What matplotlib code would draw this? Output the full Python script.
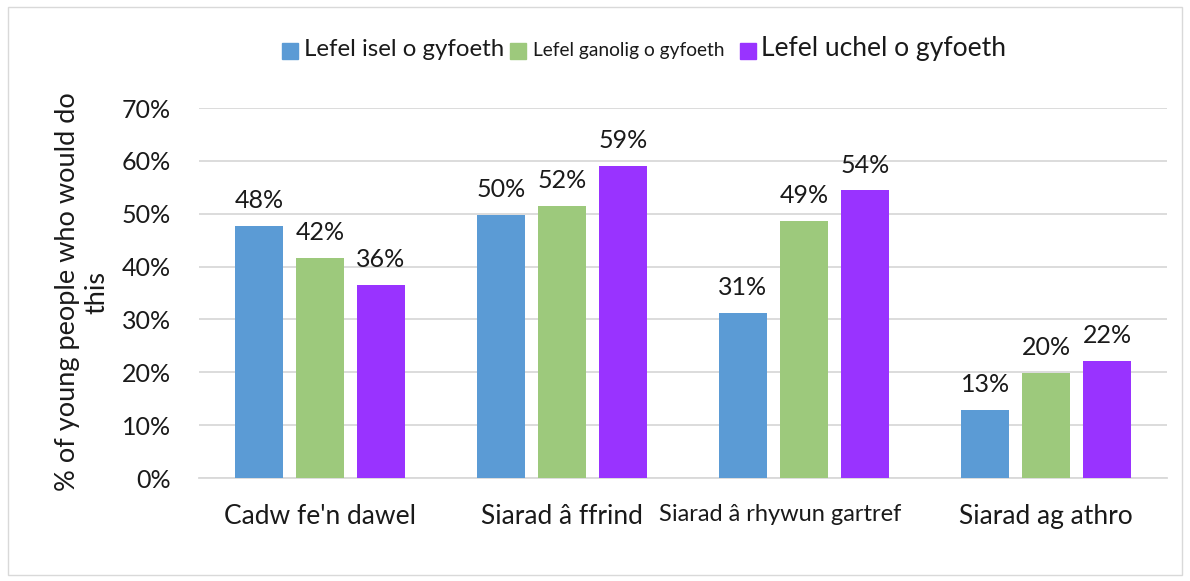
import matplotlib
matplotlib.use("Agg")
import matplotlib.pyplot as plt
from matplotlib.patches import Rectangle
from matplotlib.transforms import ScaledTranslation
import numpy as np

plt.rcParams['font.family'] = ['Lato', 'DejaVu Sans']

categories = ["Cadw fe'n dawel", "Siarad â ffrind", "Siarad â rhywun gartref", "Siarad ag athro"]
series_names = ["Lefel isel o gyfoeth", "Lefel ganolig o gyfoeth", "Lefel uchel o gyfoeth"]
isel = [47.7, 49.8, 31.2, 12.8]
ganolig = [41.6, 51.5, 48.6, 19.9]
uchel = [36.5, 59.0, 54.4, 22.1]
labels_isel = ["48%", "50%", "31%", "13%"]
labels_ganolig = ["42%", "52%", "49%", "20%"]
labels_uchel = ["36%", "59%", "54%", "22%"]
yticks = [0, 10, 20, 30, 40, 50, 60, 70]
ytick_labels = ["0%", "10%", "20%", "30%", "40%", "50%", "60%", "70%"]

colors = ["#5B9BD5", "#9DC97C", "#9933FF"]
series = [isel, ganolig, uchel]
series_labels = [labels_isel, labels_ganolig, labels_uchel]

W, H = 1190, 581
fig = plt.figure(figsize=(W / 100, H / 100), dpi=100)
ax = fig.add_axes([199 / W, 1 - 478 / H, (1167 - 199) / W, (478 - 108) / H])

x = np.arange(len(categories))
bw = 0.198
step = 0.252
for i, (vals, labs, c) in enumerate(zip(series, series_labels, colors)):
    pos = x + (i - 1) * step
    ax.bar(pos, vals, width=bw, color=c, zorder=3)
    for px, v, lab in zip(pos, vals, labs):
        ax.annotate(lab, (px, v), xytext=(0, 10), textcoords="offset points",
                    ha="center", va="bottom", fontsize=18, color="#1a1a1a")

ax.set_xlim(-0.5, len(categories) - 0.5)
ax.set_ylim(0, 70)
ax.set_yticks(yticks)
ax.set_yticklabels(ytick_labels, fontsize=18, color="#1a1a1a")
ax.set_xticks(x)
ax.set_xticklabels(categories, fontsize=19, color="#1a1a1a")
ax.tick_params(axis="y", length=0, pad=20)
ax.tick_params(axis="x", length=0, pad=19)
lab3 = ax.get_xticklabels()[2]
lab3.set_fontsize(17)
lab3.set_transform(lab3.get_transform() + ScaledTranslation(-0.24, 0, fig.dpi_scale_trans))
ax.grid(axis="y", color="#D9D9D9", linewidth=1.3, zorder=0)
for s in ["top", "right", "left"]:
    ax.spines[s].set_visible(False)
ax.spines["bottom"].set_color("#D9D9D9")
ax.spines["bottom"].set_linewidth(1.3)

fig.text(82 / W, 1 - 292 / H, "% of young people who would do\nthis", rotation=90,
         ha="center", va="center", fontsize=19.5, color="#1a1a1a", linespacing=1.2,
         multialignment="center")

# legend (manual)
leg_sizes = [17.3, 13.8, 19.1]
sq_x = [282, 510, 740]
txt_x = [304, 533, 761]
for nm, c, sx, tx, fs in zip(series_names, colors, sq_x, txt_x, leg_sizes):
    fig.patches.append(Rectangle((sx / W, 1 - 59 / H), 16 / W, 16 / H, color=c,
                                 transform=fig.transFigure, figure=fig))
    fig.text(tx / W, 1 - 56 / H, nm, ha="left", va="baseline", fontsize=fs, color="#1a1a1a")

fig.patches.append(Rectangle((8 / W, 6 / H), (1182 - 8) / W, (574 - 6) / H, fill=False,
                             edgecolor="#D9D9D9", linewidth=1, transform=fig.transFigure, figure=fig))

fig.savefig("out.png", dpi=100, facecolor="white")
